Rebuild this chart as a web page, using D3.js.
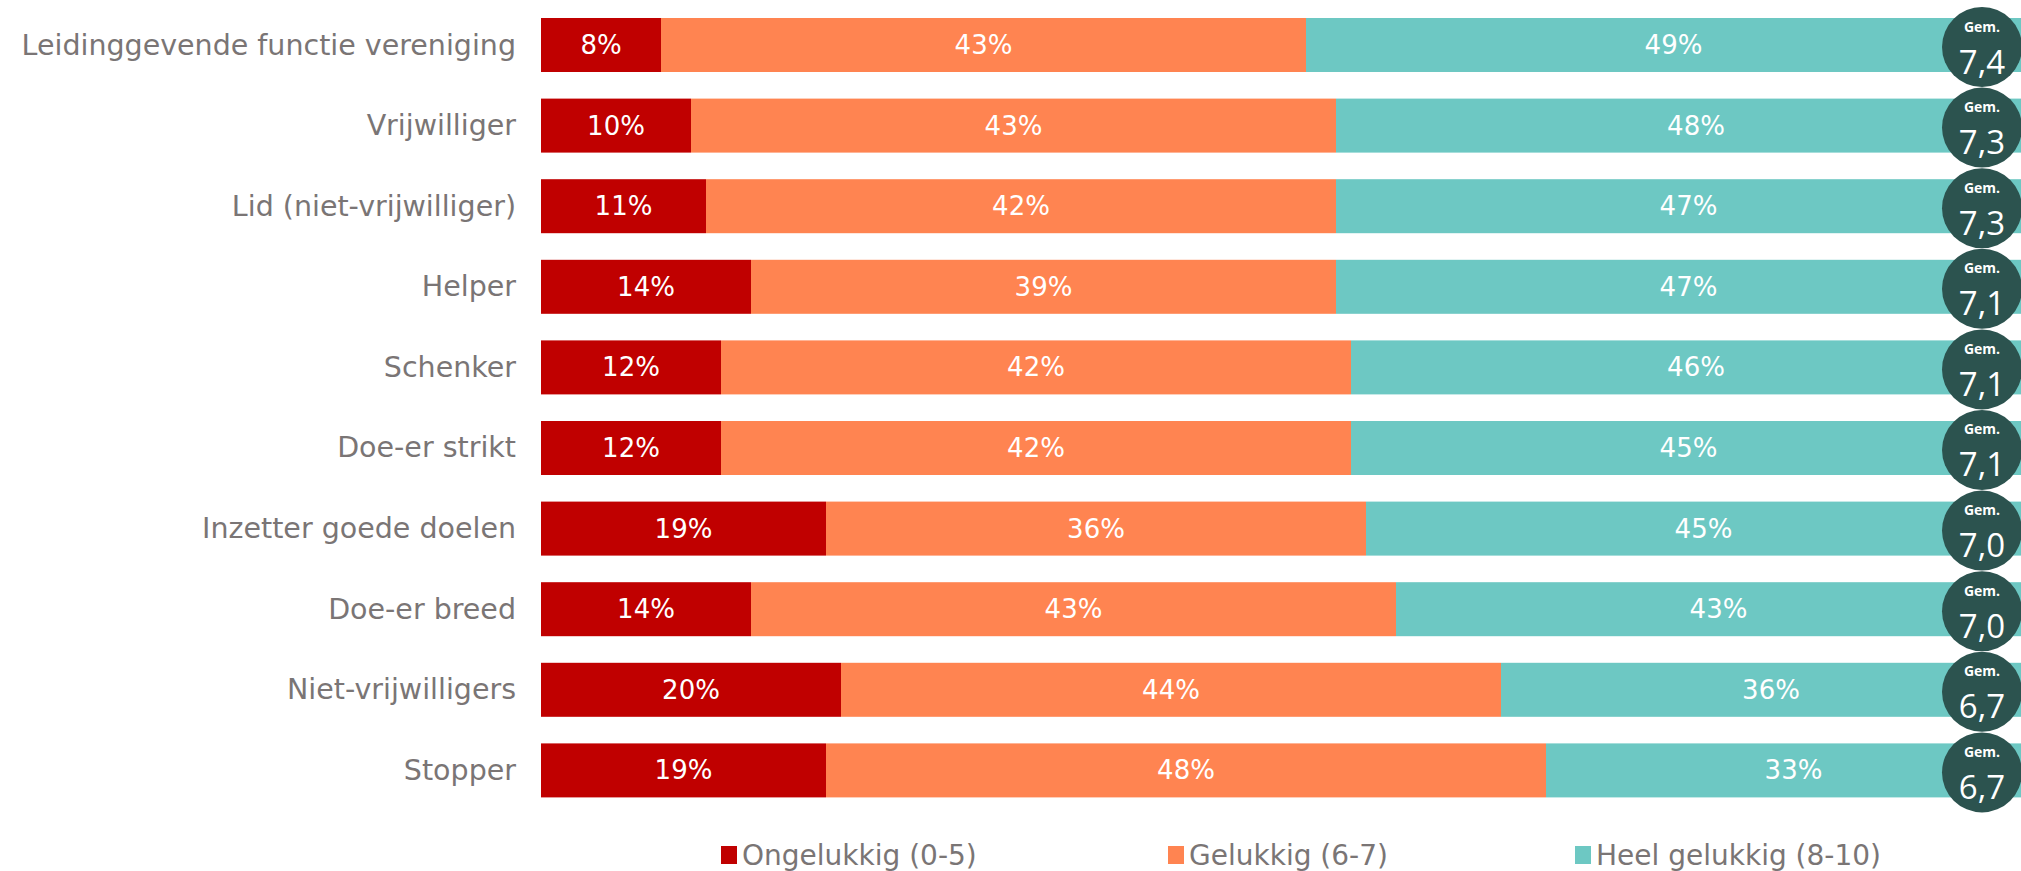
<!DOCTYPE html>
<html>
<head>
<meta charset="utf-8">
<script src="https://cdn.jsdelivr.net/npm/d3@7"></script>
<style>
  body { margin: 0; background: #fff; overflow: hidden; }
</style>
</head>
<body>
<div id="chart"></div>
<script>
// categories (top to bottom)
const categories = [
  "Leidinggevende functie vereniging",
  "Vrijwilliger",
  "Lid (niet-vrijwilliger)",
  "Helper",
  "Schenker",
  "Doe-er strikt",
  "Inzetter goede doelen",
  "Doe-er breed",
  "Niet-vrijwilligers",
  "Stopper"
];
const ongelukkig = [8, 10, 11, 14, 12, 12, 19, 14, 20, 19];
const gelukkig = [43, 43, 42, 39, 42, 42, 36, 43, 44, 48];
const heelGelukkig = [49, 48, 47, 47, 46, 45, 45, 43, 36, 33];
const gemiddelde = ["7,4", "7,3", "7,3", "7,1", "7,1", "7,1", "7,0", "7,0", "6,7", "6,7"];
const seriesNames = ["Ongelukkig (0-5)", "Gelukkig (6-7)", "Heel gelukkig (8-10)"];
const colors = ["#C00000", "#FF8451", "#6DC8C3"];

const width = 2021, height = 871;
const keys = ["a", "b", "c"];
const rows = categories.map((c, i) => ({cat: c, a: ongelukkig[i], b: gelukkig[i], c: heelGelukkig[i]}));

const svg = d3.select("#chart").append("svg")
    .attr("width", width)
    .attr("height", height)
    .style("font-family", "'DejaVu Sans', sans-serif");

const x = d3.scaleLinear().domain([0, 100]).range([541, 2041]);
const y = d3.scaleBand().domain(categories).range([18, 797.4]).paddingInner(0.33).paddingOuter(0);

const stacked = d3.stack().keys(keys)(rows);

// bars
const layer = svg.selectAll("g.layer")
  .data(stacked)
  .join("g")
    .attr("class", "layer")
    .attr("fill", (d, i) => colors[i]);

layer.selectAll("rect")
  .data(d => d)
  .join("rect")
    .attr("x", d => x(d[0]))
    .attr("y", d => y(d.data.cat))
    .attr("width", d => x(d[1]) - x(d[0]))
    .attr("height", y.bandwidth());

// percentage labels
layer.selectAll("text")
  .data(d => d)
  .join("text")
    .attr("x", d => (x(d[0]) + x(d[1])) / 2)
    .attr("y", d => y(d.data.cat) + y.bandwidth() / 2)
    .attr("text-anchor", "middle")
    .attr("dominant-baseline", "central")
    .attr("fill", "white")
    .attr("font-size", 26)
    .text(d => (d[1] - d[0]) + "%");

// category labels
svg.append("g").selectAll("text")
  .data(categories)
  .join("text")
    .attr("x", 516)
    .attr("y", d => y(d) + y.bandwidth() / 2)
    .attr("text-anchor", "end")
    .attr("dominant-baseline", "central")
    .attr("fill", "#7A7575")
    .attr("font-size", 28.5)
    .text(d => d);

// average badges
const badge = svg.append("g").selectAll("g")
  .data(categories)
  .join("g")
    .attr("transform", d => `translate(1982,${y(d) + y.bandwidth() / 2 + 2})`);

badge.append("circle")
    .attr("r", 40)
    .attr("fill", "#2C534F");

badge.append("text")
    .attr("y", -21)
    .attr("text-anchor", "middle")
    .attr("dominant-baseline", "central")
    .attr("fill", "white")
    .attr("font-size", 14)
    .attr("font-weight", "bold")
    .style("font-family", "'Open Sans', sans-serif")
    .text("Gem.");

badge.append("text")
    .attr("y", 14)
    .attr("text-anchor", "middle")
    .attr("dominant-baseline", "central")
    .attr("fill", "white")
    .attr("font-size", 33)
    .style("font-family", "'Open Sans', sans-serif")
    .text((d, i) => gemiddelde[i]);

// legend
const legendX = [721, 1168, 1575];
const legend = svg.append("g").selectAll("g")
  .data(seriesNames)
  .join("g")
    .attr("transform", (d, i) => `translate(${legendX[i]},855)`);

legend.append("rect")
    .attr("x", 0)
    .attr("y", -9)
    .attr("width", 16)
    .attr("height", 18)
    .attr("fill", (d, i) => colors[i]);

legend.append("text")
    .attr("x", 21)
    .attr("dominant-baseline", "central")
    .attr("fill", "#7A7575")
    .attr("font-size", 28)
    .text(d => d);
</script>
</body>
</html>
